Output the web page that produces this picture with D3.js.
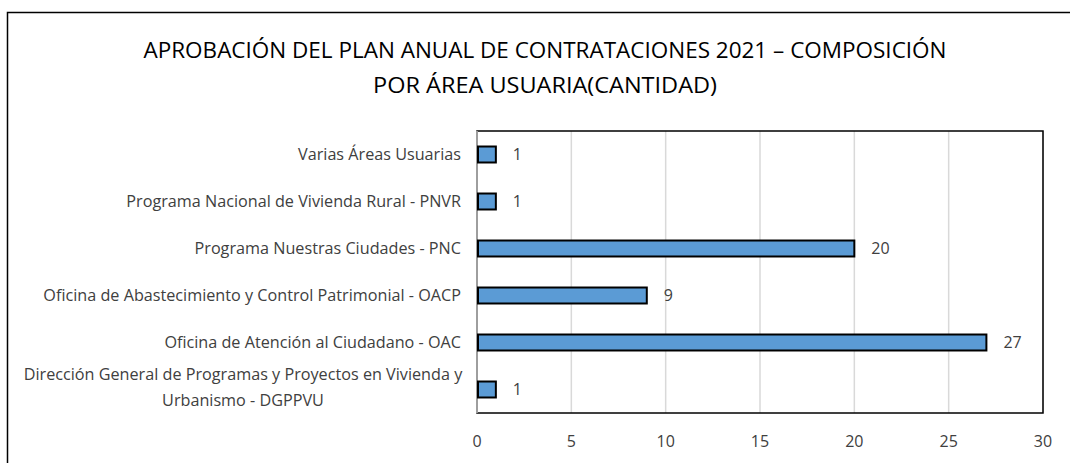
<!DOCTYPE html>
<html>
<head>
<meta charset="utf-8">
<script src="https://cdn.jsdelivr.net/npm/d3@7"></script>
<style>
  body { margin: 0; background: #fff; }
  svg { display: block; }
</style>
</head>
<body>
<div id="chart"></div>
<script>
// datos del gráfico
var categorias = [
    "Varias Áreas Usuarias",
    "Programa Nacional de Vivienda Rural - PNVR",
    "Programa Nuestras Ciudades - PNC",
    "Oficina de Abastecimiento y Control Patrimonial - OACP",
    "Oficina de Atención al Ciudadano - OAC",
    "Dirección General de Programas y Proyectos en Vivienda y|Urbanismo - DGPPVU"
];
var cantidades = [1, 1, 20, 9, 27, 1];
var ticksX = [0, 5, 10, 15, 20, 25, 30];
var titulo = [
    "APROBACIÓN DEL PLAN ANUAL DE CONTRATACIONES 2021 – COMPOSICIÓN",
    "POR ÁREA USUARIA(CANTIDAD)"
];

var width = 1070, height = 463;
var plotLeft = 477, plotRight = 1043, plotTop = 131, plotBottom = 413;
var font = "'Open Sans', 'Noto Sans', sans-serif";

const svg = d3.select("#chart")
    .append("svg")
    .attr("width", width)
    .attr("height", height);

/* marco exterior */
svg.append("rect")
    .attr("x", 7.5).attr("y", 12.5)
    .attr("width", 1080).attr("height", 480)
    .attr("fill", "none")
    .attr("stroke", "#000")
    .attr("stroke-width", 1.5);

/* titulo */
svg.selectAll(".titulo")
    .data(titulo)
    .enter()
    .append("text")
    .attr("class", "titulo")
    .attr("x", 545)
    .attr("y", (d, i) => 58 + i * 35)
    .attr("text-anchor", "middle")
    .attr("font-family", font)
    .attr("font-size", 21)
    .attr("textLength", (d, i) => i == 0 ? 803 : 344)
    .attr("lengthAdjust", "spacingAndGlyphs")
    .attr("fill", "#000")
    .text(d => d);

/* escalas */
const xScale = d3.scaleLinear()
    .domain([0, 30])
    .range([plotLeft, plotRight]);

const yScale = d3.scaleBand()
    .domain(categorias)
    .range([plotTop, plotBottom])
    .paddingInner(0.66)
    .paddingOuter(0.33);

/* grilla */
svg.append("g")
    .selectAll("line")
    .data(ticksX.slice(1))
    .enter()
    .append("line")
    .attr("x1", d => xScale(d)).attr("x2", d => xScale(d))
    .attr("y1", plotTop).attr("y2", plotBottom)
    .attr("stroke", "#d9d9d9")
    .attr("stroke-width", 1.5);

/* marco del area de trazado */
svg.append("rect")
    .attr("x", plotLeft).attr("y", plotTop)
    .attr("width", plotRight - plotLeft).attr("height", plotBottom - plotTop)
    .attr("fill", "none")
    .attr("stroke", "#000")
    .attr("stroke-width", 1.5);

svg.append("line")
    .attr("x1", plotLeft).attr("x2", plotLeft)
    .attr("y1", plotTop).attr("y2", plotBottom)
    .attr("stroke", "#bfbfbf")
    .attr("stroke-width", 1.5);

/* barras */
svg.selectAll(".barra")
    .data(cantidades)
    .enter()
    .append("rect")
    .attr("class", "barra")
    .attr("x", xScale(0) + 1)
    .attr("y", (d, i) => yScale(categorias[i]))
    .attr("width", d => xScale(d) - xScale(0) - 1)
    .attr("height", yScale.bandwidth())
    .attr("fill", "#5b9bd5")
    .attr("stroke", "#000")
    .attr("stroke-width", 2);

/* etiquetas de datos */
svg.selectAll(".valor")
    .data(cantidades)
    .enter()
    .append("text")
    .attr("class", "valor")
    .attr("x", d => xScale(d) + 17)
    .attr("y", (d, i) => yScale(categorias[i]) + yScale.bandwidth() / 2)
    .attr("dy", "0.36em")
    .attr("font-family", font)
    .attr("font-size", 16)
    .attr("fill", "#404040")
    .text(d => d);

/* etiquetas de categoria */
var cat = svg.selectAll(".cat")
    .data(categorias)
    .enter()
    .append("text")
    .attr("class", "cat")
    .attr("font-family", font)
    .attr("font-size", 16.2)
    .attr("fill", "#404040")
    .attr("text-anchor", "middle");

cat.each(function(d) {
    var lines = d.split("|");
    var yc = yScale(d) + yScale.bandwidth() / 2;
    var el = d3.select(this);
    if (lines.length == 1) {
        el.attr("text-anchor", "end")
          .attr("x", 461).attr("y", yc).attr("dy", "0.36em")
          .text(lines[0]);
    } else {
        lines.forEach((l, i) => {
            el.append("tspan")
              .attr("x", 243)
              .attr("y", yc - 2 + (i - 0.5) * 26)
              .attr("dy", "0.36em")
              .text(l);
        });
    }
});

/* eje x */
svg.selectAll(".tick-x")
    .data(ticksX)
    .enter()
    .append("text")
    .attr("class", "tick-x")
    .attr("x", d => xScale(d))
    .attr("y", 441)
    .attr("dy", "0.36em")
    .attr("text-anchor", "middle")
    .attr("font-family", font)
    .attr("font-size", 16)
    .attr("fill", "#404040")
    .text(d => d);
</script>
</body>
</html>
